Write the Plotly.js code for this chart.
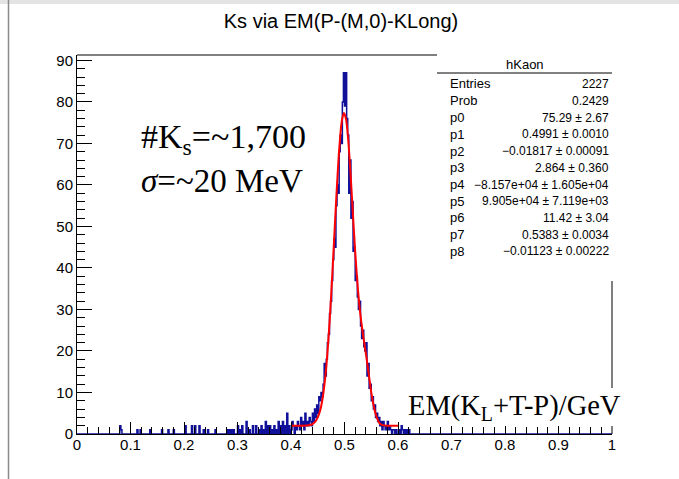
<!DOCTYPE html>
<html><head><meta charset="utf-8">
<script src="https://cdn.plot.ly/plotly-3.0.1.min.js"></script>
<style>body{margin:0;background:#fff}#chart{width:679px;height:479px}</style>
</head><body>
<div id="chart"></div>
<script>
// ---------- data ----------
const binWidth = 0.002;          // histogram bin width (GeV)
const peakStart = 0.400;         // left edge of the first bin in peakCounts
const peakCounts = [
  1,3,2,0,2,1,3,2,1,4,   2,3,1,5,2,3,2,4,3,2,
  5,3,6,4,7,5,9,8,10,9,  12,17,14,18,22,24,29,32,37,42,
  47,45,55,60,58,68,72,70,80,87,  79,87,76,72,58,66,52,56,44,45,
  37,38,33,30,32,26,23,25,21,20,  22,14,17,11,12,8,9,6,7,4,
  5,3,4,2,3,1,3,2,1,2,   3,1,2,1,0,1,1,0,1,0
];
const sparseX = [0.080,0.082,0.112,0.118,0.136,0.158,0.170,0.180,0.202,0.214,0.220,0.228,0.236,0.244,0.258,
  0.280,0.284,0.288,0.292,0.300,0.304,0.308,0.316,0.322,0.328,0.334,0.340,0.344,0.348,0.352,0.356,0.360,
  0.364,0.368,0.372,0.376,0.380,0.384,0.388,0.392,0.396,0.602,0.606,0.608,0.612,0.616,0.620];
const sparseCounts = [2,1,1,1,1,1,1,1,2,2,2,2,1,1,1,1,1,1,1,2,1,2,3,1,2,2,1,2,1,3,2,2,1,2,1,3,2,3,2,5,2,1,2,1,1,1,1];

const fitX = [0.400,0.410,0.420,0.430,0.435,0.440,0.445,0.450,0.455,0.460,0.465,0.470,0.475,0.480,0.485,0.490,0.495,0.499,
  0.503,0.507,0.511,0.515,0.520,0.525,0.530,0.535,0.540,0.545,0.550,0.555,0.560,0.565,0.570,0.580,0.590,0.600];
const fitY = [2.0,2.0,2.0,2.05,2.15,2.4,2.9,4.0,5.9,9.4,14.9,22.9,33.3,45.4,57.7,68.4,75.4,77.3,
  75.7,70.7,63.3,54.6,43.9,35.0,28.4,23.6,19.3,14.7,10.1,6.5,4.1,2.7,2.2,2.0,2.0,2.0];

const xTickVals = [0,0.1,0.2,0.3,0.4,0.5,0.6,0.7,0.8,0.9,1];
const xTickText = ['0','0.1','0.2','0.3','0.4','0.5','0.6','0.7','0.8','0.9','1'];
const yTickVals = [0,10,20,30,40,50,60,70,80,90];

const statsName = 'hKaon';
const statsLabels = ['Entries','Prob','p0','p1','p2','p3','p4','p5','p6','p7','p8'];
const statsValues = ['2227','0.2429','75.29 \u00b1 2.67','0.4991 \u00b1 0.0010','\u22120.01817 \u00b1 0.00091',
  '2.864 \u00b1 0.360','\u22128.157e+04 \u00b1 1.605e+04','9.905e+04 \u00b1 7.119e+03','11.42 \u00b1 3.04',
  '0.5383 \u00b1 0.0034','\u22120.01123 \u00b1 0.00222'];

const titleText = 'Ks via EM(P-(M,0)-KLong)';
const xTitle = 'EM(K<sub>L</sub>+T-P)/GeV';
const noteCount = '#K<sub>s</sub>=~1,700';
const noteSigma = '<i>\u03c3</i>=~20 MeV';

// ---------- build histogram step line ----------
const nBins = Math.round(1 / binWidth);
const counts = new Array(nBins).fill(0);
const i0 = Math.round(peakStart / binWidth);
peakCounts.forEach((c, k) => { counts[i0 + k] = c; });
sparseX.forEach((x, k) => { counts[Math.round(x / binWidth)] = sparseCounts[k]; });
const hx = [], hy = [];
for (let i = 0; i < nBins; i++) { hx.push(i * binWidth); hy.push(counts[i]); }
hx.push(1); hy.push(counts[nBins - 1]);

// ---------- geometry helpers (pixel -> paper) ----------
const L = 77, R = 612, T = 55, B = 434, W = 679, H = 479;
const px = p => (p - L) / (R - L);
const py = p => (B - p) / (B - T);

const shapes = [
  {type:'rect', xref:'paper', yref:'paper', x0:px(0), x1:px(W), y0:py(0), y1:py(4), fillcolor:'#e4e4e4', line:{width:0}, layer:'above'},
  {type:'line', xref:'paper', yref:'paper', x0:px(8.5), x1:px(8.5), y0:py(0), y1:py(H), line:{color:'#8a8a8a', width:1.5}, layer:'above'},
  {type:'line', xref:'paper', yref:'paper', x0:0, x1:1, y0:1, y1:1, line:{color:'#000', width:1}, layer:'above'},
  {type:'line', xref:'paper', yref:'paper', x0:1, x1:1, y0:0, y1:1, line:{color:'#000', width:1}, layer:'above'},
  {type:'rect', xref:'paper', yref:'paper', x0:px(437), x1:px(616), y0:py(281), y1:py(50), fillcolor:'#fff', line:{width:0}, layer:'above'},
  {type:'line', xref:'paper', yref:'paper', x0:px(437), x1:px(612), y0:py(73), y1:py(73), line:{color:'#000', width:1}, layer:'above'},
  {type:'rect', xref:'paper', yref:'paper', x0:px(404), x1:px(624), y0:py(426), y1:py(388), fillcolor:'#fff', line:{width:0}, layer:'above'}
];

const sans = 'Liberation Sans, Arial, sans-serif';
const serif = 'Liberation Serif, Times New Roman, serif';
const annotations = [
  {xref:'paper', yref:'paper', x:px(525), y:py(64), text:statsName, showarrow:false, xanchor:'center', yanchor:'middle', font:{family:sans, size:13, color:'#000'}},
  {xref:'paper', yref:'paper', x:px(139), y:py(139), text:noteCount, showarrow:false, xanchor:'left', yanchor:'middle', font:{family:serif, size:34, color:'#000'}},
  {xref:'paper', yref:'paper', x:px(139), y:py(181), text:noteSigma, showarrow:false, xanchor:'left', yanchor:'middle', font:{family:serif, size:33, color:'#000'}},
  {xref:'paper', yref:'paper', x:px(406), y:py(407), text:xTitle, showarrow:false, xanchor:'left', yanchor:'middle', font:{family:serif, size:28.5, color:'#000'}}
];
statsLabels.forEach((lab, k) => {
  const yy = 84 + k * 16.75;
  annotations.push({xref:'paper', yref:'paper', x:px(448), y:py(yy), text:lab, showarrow:false, xanchor:'left', yanchor:'middle', font:{family:sans, size:13, color:'#000'}});
  annotations.push({xref:'paper', yref:'paper', x:px(611), y:py(yy), text:statsValues[k], showarrow:false, xanchor:'right', yanchor:'middle', font:{family:sans, size:12, color:'#000'}});
});

const traces = [
  {x:hx, y:hy, type:'scatter', mode:'lines', line:{shape:'hv', color:'#10109a', width:1.5}, hoverinfo:'skip'},
  {x:fitX, y:fitY, type:'scatter', mode:'lines', line:{shape:'spline', smoothing:0.8, color:'#ff0000', width:2}, hoverinfo:'skip'}
];

const layout = {
  width: W, height: H,
  margin: {l:L, r:W-R, t:T, b:H-B, pad:0},
  paper_bgcolor:'#fff', plot_bgcolor:'#fff',
  showlegend:false,
  title: {text:titleText, x:341/W, xref:'container', xanchor:'center', y:1-21/H, yref:'container', yanchor:'middle', font:{family:sans, size:20, color:'#000'}},
  xaxis: {range:[0,1], tickvals:xTickVals, ticktext:xTickText, ticks:'inside', ticklen:12, tickcolor:'#000', tickwidth:1,
    showline:true, linecolor:'#000', linewidth:1, showgrid:false, zeroline:false, ticklabelstandoff:-3,
    tickfont:{family:sans, size:15, color:'#000'},
    minor:{dtick:0.02, tick0:0, ticks:'inside', ticklen:7, tickcolor:'#000', tickwidth:1, showgrid:false}},
  yaxis: {range:[0,91.3], tickvals:yTickVals, ticks:'inside', ticklen:15, tickcolor:'#000', tickwidth:1,
    showline:true, linecolor:'#000', linewidth:1, showgrid:false, zeroline:false,
    tickfont:{family:sans, size:15, color:'#000'},
    minor:{dtick:2, tick0:0, ticks:'inside', ticklen:8, tickcolor:'#000', tickwidth:1, showgrid:false}},
  shapes: shapes,
  annotations: annotations
};

Plotly.newPlot('chart', traces, layout, {staticPlot:true, displayModeBar:false});
</script>
</body></html>
